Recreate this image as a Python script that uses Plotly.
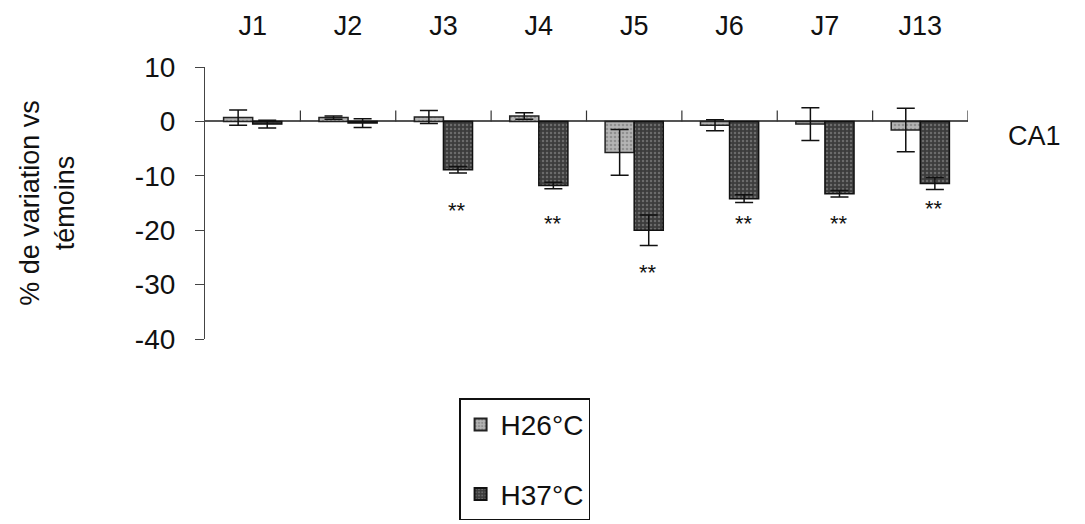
import plotly.graph_objects as go

# data
jours = ["J1", "J2", "J3", "J4", "J5", "J6", "J7", "J13"]
h26 = [0.7, 0.7, 0.8, 1.0, -5.7, -0.7, -0.5, -1.6]
h26_err = [1.4, 0.3, 1.2, 0.6, 4.2, 1.0, 3.0, 4.0]
h37 = [-0.5, -0.3, -8.9, -11.8, -20.0, -14.2, -13.3, -11.4]
h37_err = [0.7, 0.8, 0.6, 0.6, 2.8, 0.7, 0.6, 1.1]
stars_y = [None, None, -16.3, -18.8, -27.7, -18.8, -18.8, -16.1]
y_ticks = [10, 0, -10, -20, -30, -40]

font = "Liberation Sans, Arial, sans-serif"

fig = go.Figure()

fig.add_trace(go.Bar(
    x=jours, y=h26, name="H26°C", legendgroup="a",
    marker=dict(color="#a8a8a8", line=dict(color="#222", width=1.5),
                pattern=dict(shape=".", fgcolor="#6a6a6a", bgcolor="#b4b4b4",
                             size=4, solidity=0.35)),
    error_y=dict(type="data", array=h26_err, color="#111", thickness=1.5, width=9),
))
fig.add_trace(go.Bar(
    x=jours, y=h37, name="H37°C", legendgroup="b",
    marker=dict(color="#555555", line=dict(color="#111", width=1.5),
                pattern=dict(shape=".", fgcolor="#9a9a9a", bgcolor="#3c3c3c",
                             size=4, solidity=0.3)),
    error_y=dict(type="data", array=h37_err, color="#111", thickness=1.5, width=9),
))

# significance marks under the H37 bars
for j, s in zip(jours, stars_y):
    if s is not None:
        fig.add_annotation(x=j, y=s, text="**", showarrow=False, xshift=14,
                           font=dict(size=22, color="#111", family=font))

# small ticks between categories on the zero line
for i in range(len(jours)):
    fig.add_shape(type="line", xref="x", yref="y", x0=i + 0.5, x1=i + 0.5,
                  y0=0, y1=2, line=dict(color="#333", width=1.2))

fig.add_annotation(xref="paper", yref="y", x=1.0, y=-2.6, xanchor="left",
                   xshift=38, text="CA1", showarrow=False,
                   font=dict(size=27, color="#111", family=font))

# page body adds 8px, so margins are 8px smaller than the picture's
fig.update_layout(
    width=1085, height=524,
    barmode="group", bargap=0.39, bargroupgap=0,
    plot_bgcolor="white", paper_bgcolor="white",
    margin=dict(l=197, r=125, t=59, b=191),
    font=dict(family=font, size=27, color="#111"),
    showlegend=True,
    legend=dict(x=0.333, y=-0.218, xanchor="left", yanchor="top",
                bordercolor="#111", borderwidth=1.5, bgcolor="white",
                font=dict(size=28), itemsizing="constant",
                tracegroupgap=30, itemwidth=30, entrywidth=130),
    xaxis=dict(side="top", showline=False, showgrid=False, ticks="",
               tickfont=dict(size=27), range=[-0.5, 7.5], automargin=False,
               ticklabelstandoff=26),
    yaxis=dict(range=[-40, 10], tickvals=y_ticks,
               ticktext=[str(v) for v in y_ticks], showgrid=False,
               showline=True, linecolor="#444", linewidth=1.2,
               ticks="outside", ticklen=9, tickcolor="#444",
               zeroline=True, zerolinecolor="#555", zerolinewidth=1.5,
               tickfont=dict(size=28), automargin=False, ticklabelstandoff=14,
               title=dict(text="% de variation vs<br>témoins",
                          font=dict(size=27), standoff=52)),
)

fig.write_html("out.html")
